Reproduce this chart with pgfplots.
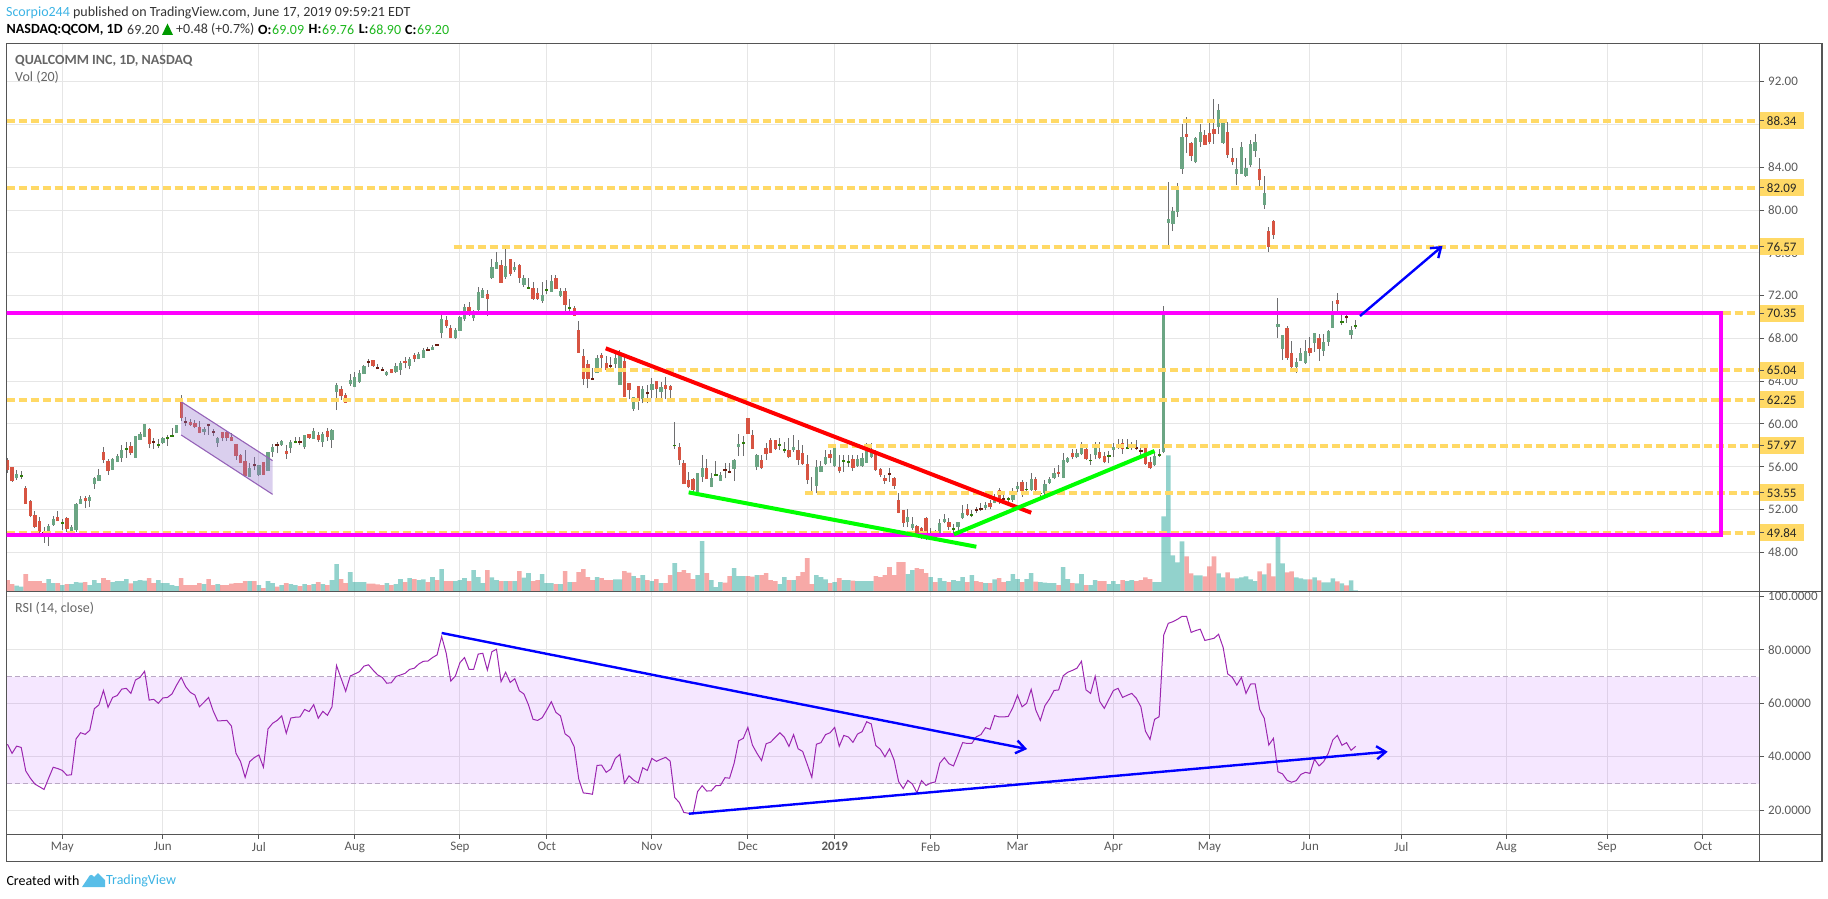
\documentclass[border=0pt]{standalone}
\usepackage{fontspec}
\setmainfont{Carlito}
\usepackage{pgfplots}
\usepackage{pgfplotstable}
\pgfplotsset{compat=1.18}
\usetikzlibrary{arrows.meta}
\definecolor{gridc}{HTML}{E6E6E6}
\definecolor{axisc}{HTML}{555555}
\definecolor{tickt}{HTML}{5A5A5A}
\definecolor{upc}{HTML}{6BA583}
\definecolor{dnc}{HTML}{D75442}
\definecolor{updk}{HTML}{2E7D0A}
\definecolor{dndk}{HTML}{6B1C10}
\definecolor{wick}{HTML}{6E6E70}
\definecolor{volup}{HTML}{26A69A}
\definecolor{voldn}{HTML}{EF5350}
\definecolor{lev}{HTML}{FFD966}
\definecolor{mag}{HTML}{FF00FF}
\definecolor{rsil}{HTML}{9C27B0}
\definecolor{band}{HTML}{9915FF}
\definecolor{bandl}{HTML}{B9A8C4}
\definecolor{chanf}{HTML}{9575CD}
\definecolor{chanl}{HTML}{9563B8}
\definecolor{blu}{HTML}{0000FF}
\definecolor{tvb}{HTML}{3BB3E4}
\definecolor{grn}{HTML}{1DB71D}
\definecolor{hdr}{HTML}{666666}
\pgfplotstableread{
i o h l c v r
0 56.63 56.78 55.44 55.69 11.3 44.7
1 55.97 55.97 54.6 54.66 7.3 41.3
2 54.91 55.69 54.76 55.32 5.7 44.0
3 55.07 55.6 54.85 55.22 4.7 43.5
4 54.04 54.2 52.52 52.55 17.3 34.7
5 52.79 52.85 51.27 51.39 10.3 32.0
6 51.49 51.86 50.3 50.39 10.3 29.8
7 50.92 51.27 49.4 49.93 10.3 28.8
8 49.93 50.39 48.9 49.77 8.3 27.8
9 49.46 50.64 48.59 50.46 12.3 32.0
10 50.55 51.39 50.46 51.11 8.3 36.1
11 51.3 51.86 50.92 50.92 8.3 35.6
12 50.67 51.11 50.08 50.82 6.3 34.9
13 51.2 51.27 49.93 50.15 7.3 33.1
14 49.86 50.55 49.4 50.33 7.3 33.3
15 50.08 52.58 49.93 52.52 9.3 46.7
16 52.52 53.26 52.52 52.98 8.7 49.0
17 53.07 53.26 52.11 52.79 9.3 48.4
18 52.79 53.36 52.23 53.17 6.3 49.9
19 54.38 55.07 53.92 54.98 11.3 58.0
20 54.7 55.79 54.7 55.22 8.3 59.4
21 57.38 57.84 56.38 56.63 13.3 64.8
22 56.53 56.69 55.23 55.6 11.3 58.5
23 55.69 56.84 55.69 56.72 9.3 62.2
24 56.44 57.19 56.44 57.0 10.3 62.9
25 56.82 58.03 56.44 57.56 10.3 65.3
26 57.56 58.34 56.82 57.75 12.3 65.6
27 57.94 58.34 57.1 57.28 8.0 63.7
28 56.82 58.87 56.82 58.87 10.3 68.7
29 58.5 59.28 58.5 59.06 11.3 69.7
30 58.78 59.99 58.78 59.99 10.7 72.0
31 59.53 59.59 57.72 58.12 13.3 61.2
32 58.37 58.7 57.69 58.31 8.3 61.5
33 57.97 58.59 57.78 58.09 11.3 60.0
34 58.25 58.81 58.12 58.66 8.3 62.0
35 58.62 58.97 57.94 58.72 8.3 62.2
36 58.78 59.59 58.78 58.97 6.3 63.5
37 59.12 59.87 59.12 59.87 5.3 66.8
38 62.08 62.71 60.31 60.52 13.3 69.7
39 60.24 60.62 59.81 60.18 6.3 66.2
40 60.21 60.43 59.81 59.9 6.3 64.1
41 60.06 60.37 59.59 59.68 6.3 63.1
42 59.71 60.27 59.12 59.18 8.3 58.7
43 59.28 59.75 58.97 59.53 7.3 60.4
44 59.9 59.9 58.97 59.84 12.3 62.2
45 59.34 59.5 58.87 59.15 6.3 57.2
46 58.25 58.81 57.87 58.72 7.3 53.4
47 59.25 59.25 58.37 58.68 6.3 53.5
48 59.25 59.31 58.43 58.68 6.3 53.6
49 58.81 59.12 58.4 58.4 7.7 51.5
50 58.12 58.12 56.63 57.0 8.3 41.3
51 57.1 57.19 56.32 56.38 8.3 38.2
52 56.5 57.56 55.07 55.13 10.3 32.3
53 55.07 56.38 55.07 55.9 10.3 38.2
54 56.16 56.88 55.69 56.1 10.3 39.7
55 55.22 56.16 55.13 56.16 6.3 40.7
56 56.47 56.47 55.22 55.22 3.3 36.1
57 55.63 57.41 55.63 57.41 10.3 50.4
58 57.38 58.12 56.94 57.81 8.3 52.5
59 58.12 58.34 57.25 57.97 4.7 53.6
60 58.0 58.5 57.94 58.4 6.3 55.3
61 57.44 58.03 56.75 57.19 8.3 48.8
62 57.78 58.5 57.31 58.28 7.3 54.5
63 58.25 58.75 58.19 58.4 6.3 54.8
64 58.4 58.81 58.03 58.31 5.3 54.9
65 57.81 58.97 57.66 58.97 7.3 57.7
66 59.03 59.03 58.62 58.68 6.3 56.9
67 58.59 59.65 58.59 59.34 7.3 59.5
68 58.97 59.28 58.34 58.47 9.3 54.4
69 58.28 59.28 57.87 59.03 7.3 57.0
70 59.34 59.59 58.43 58.75 6.3 55.5
71 58.5 59.5 57.78 59.43 11.3 58.7
72 63.02 63.8 61.3 63.64 27.3 74.1
73 63.27 63.55 62.24 62.61 12.3 69.3
74 62.71 62.92 61.99 61.99 8.3 64.5
75 63.73 64.67 63.55 64.11 19.3 70.2
76 63.49 64.89 63.42 64.36 9.3 71.0
77 63.95 65.04 63.86 64.73 9.3 71.8
78 64.67 65.51 64.67 65.42 9.3 73.9
79 65.89 66.04 65.36 65.73 7.7 74.4
80 65.98 65.98 65.36 65.42 7.7 72.4
81 65.23 65.6 65.1 65.17 7.0 70.6
82 65.1 65.29 64.98 65.04 6.3 69.7
83 64.61 64.98 64.48 64.89 8.3 67.5
84 65.1 65.17 64.73 64.76 6.3 67.7
85 64.89 65.67 64.79 65.42 7.3 70.0
86 65.04 65.89 64.58 65.73 12.3 70.6
87 65.89 66.23 65.2 65.67 9.3 71.2
88 65.42 66.23 65.1 66.04 13.3 72.7
89 66.4 66.66 65.82 66.04 12.3 73.1
90 66.07 66.76 66.04 66.54 11.3 74.7
91 66.2 67.07 66.2 66.91 12.0 75.7
92 66.98 67.23 66.85 66.85 9.3 75.8
93 66.91 67.38 66.91 67.23 14.3 77.1
94 67.41 67.48 67.29 67.32 11.3 78.1
95 68.54 70.5 68.0 69.81 22.3 85.0
96 69.72 70.09 68.94 69.16 10.3 78.7
97 69.0 69.25 68.0 68.07 10.3 68.3
98 68.0 68.94 67.91 68.78 10.3 70.2
99 68.72 70.09 68.72 70.03 11.3 75.2
100 69.78 71.22 69.66 70.97 13.3 77.1
101 70.94 71.44 70.1 70.25 10.3 72.7
102 69.88 70.66 69.63 70.44 21.3 72.7
103 70.66 72.84 70.56 72.37 14.3 78.4
104 71.81 72.75 71.81 72.53 8.3 78.7
105 72.15 72.53 70.13 71.69 21.3 72.4
106 73.68 75.43 73.56 74.68 14.0 79.3
107 74.52 76.11 74.52 75.15 11.3 80.2
108 74.87 75.3 73.21 73.21 10.3 68.1
109 73.77 76.55 73.56 74.77 10.3 71.6
110 75.43 75.43 73.87 74.02 10.3 67.8
111 74.4 75.11 74.24 74.68 10.3 69.2
112 74.87 74.96 73.18 73.68 20.3 64.7
113 72.99 73.93 72.81 73.62 13.7 63.5
114 72.65 73.62 72.65 72.81 18.3 59.4
115 72.68 73.24 71.59 71.72 10.3 54.0
116 72.22 72.68 71.59 71.72 11.3 53.6
117 71.53 73.24 71.34 72.03 17.3 54.6
118 72.46 73.46 72.12 72.59 8.3 57.5
119 72.37 73.93 72.34 73.37 8.3 60.6
120 73.62 73.93 72.65 72.65 7.3 56.6
121 71.97 72.68 71.84 72.43 7.3 55.3
122 72.43 72.68 70.56 71.15 20.3 48.6
123 70.78 71.69 70.56 70.94 9.3 47.3
124 70.81 71.06 70.13 70.13 9.3 43.8
125 68.78 69.63 66.66 66.66 19.3 31.7
126 66.35 66.98 63.64 64.23 22.3 26.5
127 65.6 65.98 63.33 64.23 14.3 26.3
128 64.3 65.2 64.11 64.11 11.3 26.0
129 64.73 66.45 64.73 66.14 14.3 36.8
130 66.45 66.66 65.2 66.14 13.3 36.9
131 65.67 66.35 64.89 65.04 11.3 34.2
132 65.48 66.29 64.89 65.36 11.3 35.4
133 65.61 66.6 65.2 66.14 12.0 39.4
134 63.64 66.91 63.64 66.6 12.0 40.9
135 65.89 66.45 62.55 62.55 20.3 30.2
136 63.8 63.8 62.33 63.17 18.7 32.9
137 61.4 62.49 61.24 62.49 15.3 31.3
138 63.55 63.55 61.3 62.15 13.3 30.2
139 62.3 63.55 61.93 63.24 16.3 35.9
140 62.89 63.64 61.93 62.83 11.3 34.9
141 63.17 64.27 62.4 63.73 10.3 39.4
142 64.02 64.02 62.33 63.27 12.3 38.3
143 62.99 63.95 62.33 63.42 8.3 39.1
144 63.64 64.36 62.33 63.24 8.3 39.8
145 63.55 63.64 62.24 63.17 16.3 38.4
146 57.94 60.21 57.66 58.03 28.3 24.8
147 57.84 58.19 56.16 56.63 19.3 22.9
148 56.38 56.63 54.38 54.38 21.3 19.2
149 54.76 55.47 53.98 54.07 18.3 18.9
150 54.85 54.91 53.57 53.82 12.3 18.6
151 53.67 55.44 53.57 55.44 16.3 27.0
152 55.07 57.1 54.6 55.9 50.3 29.2
153 55.85 56.72 54.85 54.85 18.3 27.2
154 54.14 55.38 54.07 54.98 11.3 27.3
155 55.16 56.53 55.16 55.32 4.3 29.2
156 54.7 55.54 54.66 55.22 9.3 29.3
157 55.76 56.32 54.91 55.69 8.7 32.2
158 55.57 56.32 55.38 55.47 15.3 32.0
159 55.79 56.69 54.66 56.63 23.3 37.6
160 57.81 59.06 57.0 58.12 15.3 46.0
161 58.15 58.87 57.0 58.31 15.3 46.9
162 60.55 60.55 59.06 59.06 15.3 51.0
163 58.97 59.43 57.66 57.66 14.7 44.4
164 55.94 57.19 55.69 57.13 16.3 41.3
165 56.63 57.1 55.75 55.85 16.3 38.6
166 57.72 58.19 56.63 57.19 18.3 44.9
167 58.5 58.65 57.25 57.31 11.3 45.5
168 58.5 58.5 57.56 57.66 10.3 47.3
169 58.03 58.65 57.56 58.12 7.3 49.0
170 57.44 58.34 57.31 57.62 14.3 47.3
171 57.56 58.65 56.78 56.88 11.3 43.9
172 57.53 58.97 57.41 57.87 11.3 48.3
173 57.56 58.5 56.16 56.63 15.3 43.0
174 57.25 58.03 56.16 56.25 19.3 42.0
175 56.25 57.1 54.38 54.76 33.3 37.2
176 53.7 55.07 53.57 53.57 7.3 32.3
177 54.23 56.63 53.51 55.94 16.3 44.7
178 55.54 56.53 55.47 56.07 14.3 45.3
179 56.25 57.56 56.16 56.88 12.0 48.3
180 57.16 57.56 56.32 56.78 8.3 49.0
181 56.1 58.03 56.0 57.87 9.3 51.0
182 56.0 57.1 55.38 55.57 13.3 43.9
183 56.47 57.1 55.54 56.63 11.3 48.0
184 56.38 57.1 56.0 56.47 11.3 47.4
185 56.72 57.1 55.63 55.9 10.7 45.4
186 56.1 57.1 56.0 56.69 10.3 48.5
187 56.1 57.25 56.0 56.85 10.3 49.4
188 56.38 58.19 56.38 57.72 10.3 53.1
189 56.88 58.19 56.78 57.41 10.3 52.3
190 57.5 57.56 55.63 55.69 15.3 44.2
191 55.79 55.85 55.07 55.22 14.3 42.8
192 54.95 55.22 54.38 54.66 16.3 40.0
193 55.41 55.85 54.6 55.25 24.3 43.0
194 54.98 55.07 53.92 54.2 16.3 38.8
195 52.89 53.51 51.64 51.7 29.3 30.7
196 51.95 51.95 50.39 50.77 29.3 28.1
197 50.8 52.02 50.33 51.3 17.3 31.2
198 50.27 51.33 50.08 50.64 21.3 29.8
199 50.49 50.55 49.4 49.62 23.3 26.6
200 50.24 50.39 49.27 49.46 22.3 31.1
201 51.2 51.33 49.15 49.3 18.3 29.3
202 49.58 50.24 49.52 49.71 14.3 30.2
203 49.68 50.08 49.52 49.58 9.3 30.6
204 49.62 51.11 49.52 50.71 13.3 37.6
205 50.86 51.58 50.71 51.11 10.3 39.7
206 50.83 51.17 50.08 50.39 9.3 37.4
207 50.11 50.64 49.62 50.2 11.3 36.6
208 50.39 50.86 49.93 50.83 10.3 40.9
209 51.17 52.42 51.08 51.64 14.3 45.3
210 52.05 52.52 51.39 51.49 9.3 45.0
211 51.42 51.95 51.27 51.58 16.3 45.0
212 52.05 52.27 51.64 51.89 10.3 47.5
213 52.05 52.58 51.89 51.98 9.3 48.3
214 52.14 52.73 51.95 52.42 8.3 50.9
215 52.58 52.89 52.02 52.2 8.3 50.3
216 52.64 53.42 52.58 53.2 12.0 55.4
217 53.82 53.98 52.52 52.89 13.3 54.9
218 53.07 53.36 52.64 52.98 9.3 54.9
219 52.95 53.2 52.33 53.07 10.3 55.1
220 52.89 53.98 52.73 53.67 17.3 58.5
221 53.89 54.6 53.67 54.2 12.3 63.0
222 54.57 54.76 53.2 53.76 9.3 58.7
223 53.82 54.6 53.76 53.92 12.3 60.0
224 53.82 55.44 53.76 54.82 18.3 65.2
225 54.82 55.0 53.67 53.82 9.7 57.5
226 53.42 53.76 53.14 53.57 9.3 53.6
227 53.57 54.76 53.04 54.38 8.7 59.1
228 54.51 55.0 54.38 54.85 8.3 61.6
229 54.91 55.85 54.82 55.38 8.3 64.8
230 55.54 56.16 55.07 55.32 6.3 65.0
231 54.98 57.31 54.91 56.63 24.3 70.3
232 56.47 56.94 56.38 56.85 12.3 71.6
233 57.25 57.66 56.69 56.88 8.3 72.3
234 56.88 57.66 56.78 57.25 8.0 73.1
235 57.19 58.34 57.1 57.78 17.3 75.7
236 57.66 57.87 56.63 56.69 6.3 65.0
237 56.53 57.19 56.16 56.63 6.3 63.7
238 57.1 58.34 56.69 58.09 11.3 70.1
239 57.41 58.34 56.69 56.78 10.3 60.7
240 57.0 57.41 56.32 56.41 10.3 58.1
241 57.0 57.5 56.32 57.06 7.3 61.5
242 57.56 58.19 56.94 57.87 10.3 64.8
243 57.94 58.56 57.66 58.09 7.3 65.6
244 58.19 58.56 57.19 57.62 11.3 62.2
245 57.72 58.56 57.62 57.84 10.3 63.0
246 57.94 58.34 57.56 58.03 11.3 63.7
247 57.84 58.5 57.56 57.66 10.3 61.9
248 57.56 58.03 57.06 57.38 11.3 58.7
249 57.72 57.72 56.16 56.25 14.0 49.6
250 56.44 56.94 55.75 55.85 12.3 46.5
251 56.16 57.41 56.07 57.03 9.3 54.0
252 57.06 57.66 56.94 57.22 9.3 55.0
253 57.41 71.03 57.25 70.5 75.0 85.5
254 78.79 82.59 76.58 79.16 136.0 89.9
255 78.67 80.29 78.04 79.91 36.0 90.5
256 79.85 82.5 79.38 82.06 29.0 91.4
257 83.84 88.05 83.4 86.83 50.0 92.5
258 87.11 88.7 85.34 86.83 35.0 92.5
259 86.27 86.4 84.59 85.06 18.0 86.5
260 84.49 86.86 84.37 86.74 16.0 87.2
261 86.36 88.05 85.9 87.3 16.0 87.7
262 87.02 87.49 86.08 86.08 15.0 83.5
263 87.21 88.33 86.18 86.36 25.0 83.9
264 87.58 90.39 86.18 87.11 35.0 84.3
265 87.77 89.92 87.11 89.36 18.0 85.8
266 86.27 88.33 86.18 88.33 14.0 80.9
267 87.3 88.23 84.87 85.15 19.0 71.0
268 84.87 85.77 84.21 84.49 13.0 69.7
269 83.37 84.84 82.34 83.84 13.0 66.8
270 83.37 86.36 83.37 85.9 14.0 69.7
271 83.18 84.84 83.09 83.93 15.0 63.7
272 84.21 86.55 84.03 86.18 12.0 67.2
273 85.52 87.11 84.96 86.36 10.3 67.3
274 83.84 84.84 82.16 82.81 20.0 57.7
275 80.47 83.19 80.1 81.6 17.0 54.4
276 78.04 78.42 76.08 76.55 28.0 44.4
277 78.98 79.07 77.29 77.67 15.0 46.9
278 69.03 71.78 68.04 69.35 59.0 34.4
279 67.01 68.32 65.98 68.32 28.0 33.6
280 68.97 69.16 65.98 66.17 19.0 31.2
281 66.63 67.76 65.23 65.32 20.0 30.5
282 65.32 66.17 64.76 65.79 14.0 31.1
283 65.89 67.1 65.89 66.63 13.0 33.4
284 65.7 67.85 65.6 66.82 12.0 34.2
285 67.1 68.13 66.35 66.63 12.0 33.8
286 67.57 68.5 66.73 68.5 14.0 39.1
287 68.04 68.41 65.89 67.01 11.0 36.6
288 66.82 68.41 66.35 67.66 9.0 38.2
289 67.66 68.78 67.29 68.69 9.0 41.3
290 68.97 71.5 68.97 70.56 13.0 46.3
291 71.59 72.24 70.28 71.22 10.0 48.0
292 69.44 70.37 69.25 69.63 8.0 44.3
293 70.0 70.56 69.44 69.94 6.0 45.3
294 68.35 69.16 67.94 68.78 11.0 42.4
295 69.09 69.76 68.9 69.2 1.0 43.9
}\qc
\pgfplotsset{
 pane/.style={scale only axis,width=1753pt,xmin=-0.219,xmax=383.37},
 mt/.style={xtick={12,34,55,76,99,118,141,162,181,202,221,242,263,285,305,328,350,371}},
 overlay/.style={pane,at={(6.5pt,306.7pt)},anchor=south west,height=548pt,hide axis,ymin=44.353,ymax=95.59},
 cd/.style 2 args={draw=none,mark=none,forget plot,error bars/.cd,y dir=plus,y explicit,error mark=none,error bar style={line width=#1,draw=#2}},
 lv/.style={lev,line width=3.8pt,dash pattern=on 8pt off 4pt},
}
\begin{document}
\begin{tikzpicture}[x=1pt,y=1pt]
\path (0,0) rectangle (1828,898);
% price pane frame and grid
\begin{axis}[pane,mt,at={(6.5pt,306.7pt)},anchor=south west,height=548pt,
  ymin=44.353,ymax=95.59,ytick={48,52,...,92},xticklabels={},
  grid=major,grid style={draw=gridc,line width=1pt},
  axis line style={draw=axisc,line width=1.1pt},
  xtick style={draw=none},ytick style={draw=axisc,line width=1pt},
  major tick length=4.5pt,tick align=outside,ytick pos=right,yticklabel pos=right,
  yticklabel style={font=\fontsize{13}{13}\selectfont,text=tickt,anchor=west,inner sep=0pt,xshift=4pt,
    /pgf/number format/.cd,fixed,fixed zerofill,precision=2,assume math mode=true}]
\end{axis}
% volume
\begin{axis}[pane,at={(6.5pt,306.7pt)},anchor=south west,height=548pt,hide axis,ymin=0,ymax=548,
  ybar,bar width=1,bar shift=0pt]
\addplot[fill=volup,fill opacity=.5,draw=none] table[x=i,y expr={\thisrow{c}>=\thisrow{o} ? \thisrow{v} : nan}]{\qc};
\addplot[fill=voldn,fill opacity=.5,draw=none] table[x=i,y expr={\thisrow{c}<\thisrow{o} ? \thisrow{v} : nan}]{\qc};
\end{axis}
% candles and drawings
\begin{axis}[overlay]
\addplot[cd={1pt}{wick}] table[x=i,y=l,y error plus expr={\thisrow{h}-\thisrow{l}}]{\qc};
\addplot[cd={3.3pt}{upc}] table[x=i,y expr={(\thisrow{c}-\thisrow{o}>0.2) ? \thisrow{o} : nan},y error plus expr={\thisrow{c}-\thisrow{o}}]{\qc};
\addplot[cd={3.3pt}{dnc}] table[x=i,y expr={(\thisrow{o}-\thisrow{c}>0.2) ? \thisrow{c} : nan},y error plus expr={\thisrow{o}-\thisrow{c}}]{\qc};
\addplot[cd={3.3pt}{updk}] table[x=i,y expr={(\thisrow{c}-\thisrow{o}<=0.2 && \thisrow{c}>=\thisrow{o}) ? (\thisrow{c}+\thisrow{o})/2-0.09 : nan},y error plus expr={0.18}]{\qc};
\addplot[cd={3.3pt}{dndk}] table[x=i,y expr={(\thisrow{o}-\thisrow{c}<=0.2 && \thisrow{o}>\thisrow{c}) ? (\thisrow{c}+\thisrow{o})/2-0.09 : nan},y error plus expr={0.18}]{\qc};
% channel
\addplot[draw=none,fill=chanf,fill opacity=.35] coordinates {(38,62.08)(58,56.57)(58,53.42)(38,58.97)} --cycle;
\addplot[chanl,line width=1.1pt] coordinates {(38,62.08)(58,56.57)};
\addplot[chanl,line width=1.1pt] coordinates {(38,58.97)(58,53.42)};
% levels
\pgfplotsinvokeforeach{88.34,82.09,70.35,62.25,49.84}{
 \addplot[lv] coordinates {(-0.219,#1)(383.37,#1)};}
\addplot[lv] coordinates {(97.6,76.57)(383.37,76.57)};
\addplot[lv] coordinates {(125.7,65.04)(383.37,65.04)};
\addplot[lv] coordinates {(179.5,57.97)(383.37,57.97)};
\addplot[lv] coordinates {(174.6,53.55)(383.37,53.55)};
% magenta box
\addplot[mag,line width=4pt,miter limit=10] coordinates {(-2,70.34)(375,70.34)(375,49.58)(-2,49.58)};
% trend lines
\addplot[red,line width=4pt] coordinates {(130.9,67.07)(224,51.7)};
\addplot[green,line width=4pt] coordinates {(149.05,53.6)(212,48.52)};
\addplot[green,line width=4pt] coordinates {(207.1,49.68)(251,57.47)};
\addplot[blu,line width=2.4pt,-{Straight Barb[length=9pt,width=13pt]}] coordinates {(295.95,70.09)(314,76.64)};
\end{axis}
% RSI pane
\begin{axis}[pane,mt,at={(6.5pt,63.7pt)},anchor=south west,height=243pt,
  ymin=11.03,ymax=101.87,ytick={20,40,60,80,100},
  xticklabels={May,Jun,Jul,Aug,Sep,Oct,Nov,Dec,\textbf{2019},Feb,Mar,Apr,May,Jun,Jul,Aug,Sep,Oct},
  grid=major,grid style={draw=gridc,line width=1pt},
  axis line style={draw=axisc,line width=1.1pt},
  tick style={draw=axisc,line width=1pt},
  major tick length=4.5pt,tick align=outside,ytick pos=right,yticklabel pos=right,xtick pos=bottom,
  xticklabel style={font=\fontsize{13}{13}\selectfont,text=tickt,inner sep=0pt,yshift=-3pt},
  yticklabel style={font=\fontsize{13}{13}\selectfont,text=tickt,anchor=west,inner sep=0pt,xshift=4pt,
    /pgf/number format/.cd,fixed,fixed zerofill,precision=4,assume math mode=true}]
\addplot[draw=none,fill=band,fill opacity=.1] coordinates {(-0.219,30)(383.37,30)(383.37,70)(-0.219,70)} --cycle;
\addplot[bandl,line width=1pt,dash pattern=on 5pt off 3pt] coordinates {(-0.219,70)(383.37,70)};
\addplot[bandl,line width=1pt,dash pattern=on 5pt off 3pt] coordinates {(-0.219,30)(383.37,30)};
\addplot[rsil,line width=1pt] table[x=i,y=r]{\qc};
\addplot[blu,line width=2.4pt,-{Straight Barb[length=9pt,width=13pt]}] coordinates {(95,86.28)(223.1,42.9)};
\addplot[blu,line width=2.4pt,-{Straight Barb[length=9pt,width=13pt]}] coordinates {(149.1,18.73)(302,41.9)};
\end{axis}
% price labels
\begin{axis}[overlay,clip=false]
\pgfplotsinvokeforeach{88.34,82.09,76.57,70.35,65.04,62.25,57.97,53.55,49.84}{
 \node[fill=lev,minimum width=44pt,minimum height=17pt,inner sep=0pt,anchor=west,text=black!85,font=\fontsize{13}{13}\selectfont] at (axis cs:383.37,#1) {#1};
 \draw[axisc,line width=1pt] (axis cs:383.37,#1) -- ++(4.5pt,0pt);}
\end{axis}
% outer frame
\draw[axisc,line width=1.1pt] (6.5,63.7) -- (6.5,36.7) -- (1822,36.7) -- (1822,854.7) -- (1759.5,854.7);
\draw[axisc,line width=1.1pt] (1759.5,854.7) -- (6.5,854.7);
\draw[axisc,line width=1.1pt] (1759.5,63.7) -- (1822,63.7);
\draw[axisc,line width=1.1pt] (1759.5,306.7) -- (1822,306.7);
\draw[axisc,line width=1.1pt] (1759.5,36.7) -- (1759.5,854.7);
\draw[axisc,line width=1.1pt] (6.5,306.7) -- (1759.5,306.7);
% texts
\begin{scope}[every node/.style={anchor=west,inner sep=0pt,font=\fontsize{14}{14}\selectfont}]
\node at (6,885.5) {\textcolor{tvb}{Scorpio244} \textcolor{black!80}{published on TradingView.com, June 17, 2019 09:59:21 EDT}};
\node at (6.5,868.5) {\textbf{NASDAQ:QCOM, 1D}};
\node[text=black!80] at (127,868.5) {69.20};
\node[text=black!80] at (176,868.5) {+0.48 (+0.7\%)};
\node at (258,868.5) {\textbf{O:}};
\node[text=grn] at (272,868.5) {69.09};
\node at (308.5,868.5) {\textbf{H:}};
\node[text=grn] at (322,868.5) {69.76};
\node at (358.6,868.5) {\textbf{L:}};
\node[text=grn] at (369,868.5) {68.90};
\node at (405,868.5) {\textbf{C:}};
\node[text=grn] at (417,868.5) {69.20};
\node[text=hdr] at (15,837.3) {\textbf{QUALCOMM INC, 1D, NASDAQ}};
\node[text=hdr] at (15,820.3) {Vol (20)};
\node[text=hdr] at (15,289.3) {RSI (14, close)};
\node at (6.3,17.3) {Created with};
\node[text=tvb] at (106,17.3) {TradingView};
\end{scope}
\fill[green!60!black] (162,863) -- (173,863) -- (167.5,874.5) -- cycle;
\fill[tvb!85] (82,11) -- (88,20) .. controls (90,24) and (92,24) .. (94,21) -- (98,25) -- (105,18) -- (105,11) -- cycle;
\end{tikzpicture}
\end{document}
